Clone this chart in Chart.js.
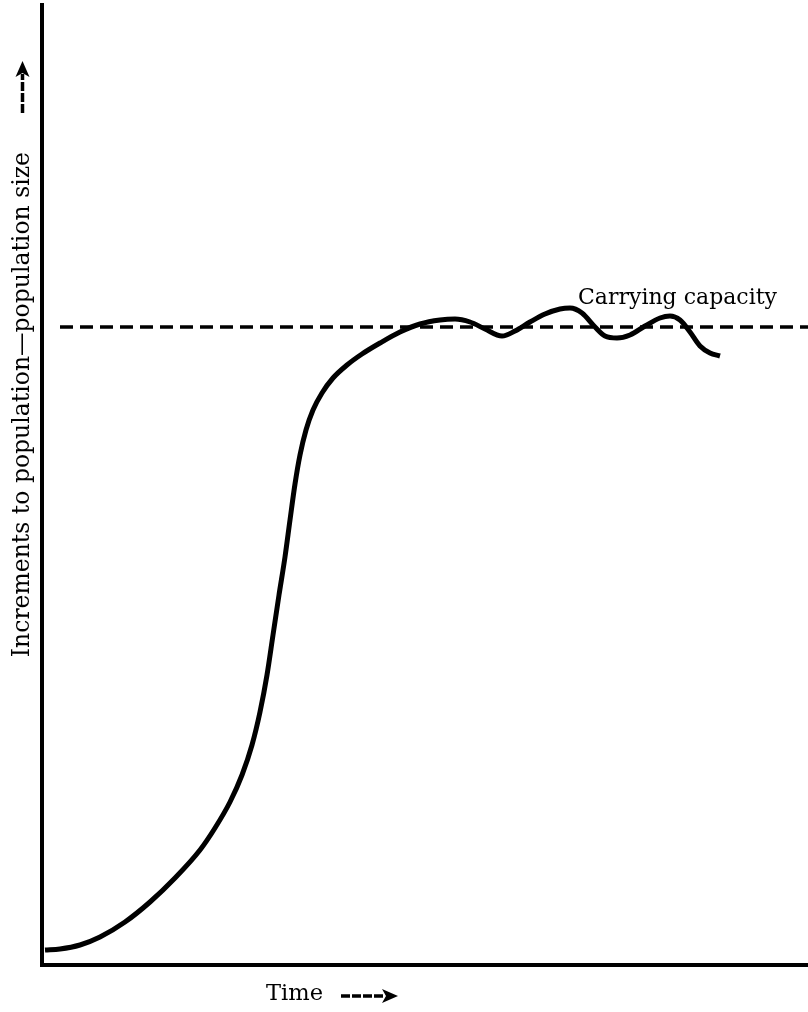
<!DOCTYPE html>
<html>
<head>
<meta charset="utf-8">
<script src="https://cdn.jsdelivr.net/npm/chart.js@4/dist/chart.umd.min.js"></script>
<style>
  html, body { margin: 0; padding: 0; background: #fff; }
  #wrap { width: 808px; height: 1012px; position: relative; }
</style>
</head>
<body>
<div id="wrap"><canvas id="growthChart"></canvas></div>
<script>
// Logistic growth curve (arbitrary units: time across, population up)
const timeValues = [
    3, 18, 38, 58, 83, 108, 133, 158, 173, 188,
    200, 210, 218, 225, 231, 237, 243, 248, 253, 258,
    264, 271, 280, 291, 305, 320, 338, 358, 378, 398,
    413, 428, 443, 460, 473, 488, 503, 518, 528, 540,
    553, 563, 575, 588, 603, 618, 628, 638, 648, 658,
    668, 678
];
const populationValues = [
    15, 16, 20, 28, 43, 63, 87, 115, 137, 163,
    190, 220, 253, 290, 330, 370, 408, 445, 481, 510,
    535, 555, 572, 587, 600, 611, 622, 633, 641, 645,
    646, 643, 636, 629, 634, 643, 651, 656, 657, 652,
    638, 629, 627, 630, 639, 647, 649, 645, 633, 619,
    612, 609
];

// Carrying capacity level and where the dashed line starts/ends
const capacityLevel = 638;
const capacityRange = [18, 766];

const xLabel = 'Time';
const yLabel = 'Increments to population\u2014population size';
const capacityLabel = 'Carrying capacity';

const curvePoints = timeValues.map((t, i) => ({ x: t, y: populationValues[i] }));
const capacityPoints = capacityRange.map(t => ({ x: t, y: capacityLevel }));

// fit a font size so the text spans a given width
function fitFont(ctx, text, width, family) {
    ctx.font = '100px ' + family;
    const w = ctx.measureText(text).width;
    return Math.round(100 * width / w * 10) / 10;
}

const serif = '"DejaVu Serif", "Liberation Serif", serif';

const labelsPlugin = {
    id: 'labels',
    afterDraw(chart) {
        const { ctx, scales: { x, y } } = chart;
        ctx.save();
        ctx.fillStyle = '#000';
        ctx.strokeStyle = '#000';

        // carrying capacity text
        let size = fitFont(ctx, capacityLabel, 199, serif);
        ctx.font = size + 'px ' + serif;
        ctx.textBaseline = 'alphabetic';
        ctx.textAlign = 'left';
        ctx.fillText(capacityLabel, x.getPixelForValue(536), y.getPixelForValue(661));

        // y axis title, rotated (top end just below the arrow)
        size = fitFont(ctx, yLabel, 505, serif);
        ctx.save();
        ctx.translate(29, 152);
        ctx.rotate(-Math.PI / 2);
        ctx.font = size + 'px ' + serif;
        ctx.textAlign = 'right';
        ctx.fillText(yLabel, 0, 0);
        ctx.restore();

        // up arrow
        ctx.lineWidth = 3.5;
        ctx.setLineDash([9, 2]);
        ctx.beginPath();
        ctx.moveTo(22.5, 113);
        ctx.lineTo(22.5, 74);
        ctx.stroke();
        ctx.setLineDash([]);
        ctx.beginPath();
        ctx.moveTo(22.5, 61);
        ctx.lineTo(15.5, 77);
        ctx.lineTo(22.5, 73);
        ctx.lineTo(29.5, 77);
        ctx.closePath();
        ctx.fill();

        // x axis title
        size = fitFont(ctx, xLabel, 57, serif);
        ctx.font = size + 'px ' + serif;
        ctx.textAlign = 'left';
        ctx.fillText(xLabel, 266, 1000);

        // right arrow
        ctx.lineWidth = 3.5;
        ctx.setLineDash([9, 2]);
        ctx.beginPath();
        ctx.moveTo(341, 996);
        ctx.lineTo(384, 996);
        ctx.stroke();
        ctx.setLineDash([]);
        ctx.beginPath();
        ctx.moveTo(398, 996);
        ctx.lineTo(382, 989);
        ctx.lineTo(386, 996);
        ctx.lineTo(382, 1003);
        ctx.closePath();
        ctx.fill();

        ctx.restore();
    }
};

const ctx = document.getElementById('growthChart').getContext('2d');
new Chart(ctx, {
    type: 'line',
    data: {
        datasets: [
            {
                label: 'Population',
                data: curvePoints,
                borderColor: '#000',
                borderWidth: 5,
                pointRadius: 0,
                cubicInterpolationMode: 'monotone',
                fill: false
            },
            {
                label: 'Carrying capacity',
                data: capacityPoints,
                borderColor: '#000',
                borderWidth: 3.5,
                borderDash: [13, 7],
                pointRadius: 0,
                fill: false
            }
        ]
    },
    options: {
        responsive: true,
        maintainAspectRatio: false,
        animation: false,
        layout: { padding: { left: 42, right: 0, top: 5, bottom: 47 } },
        scales: {
            x: {
                type: 'linear',
                min: 0,
                max: 766,
                grid: { display: false, drawTicks: false },
                ticks: { display: false },
                border: { display: true, color: '#000', width: 4 }
            },
            y: {
                type: 'linear',
                min: 0,
                max: 960,
                grid: { display: false, drawTicks: false },
                ticks: { display: false },
                border: { display: true, color: '#000', width: 4 }
            }
        },
        plugins: {
            legend: { display: false },
            tooltip: { enabled: false }
        }
    },
    plugins: [labelsPlugin]
});
</script>
</body>
</html>
